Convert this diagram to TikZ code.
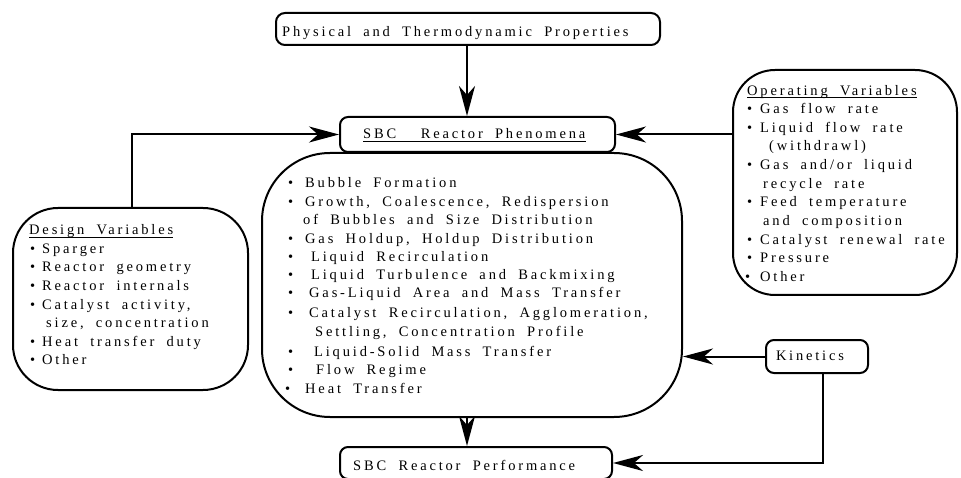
\documentclass[tikz,border=0pt]{standalone}
\usepackage{fontspec}
\setmainfont{Liberation Serif}
\newfontfamily\spfont[LetterSpace=19.5,WordSpace=1.9]{Liberation Serif}
\usetikzlibrary{arrows.meta}
\newcommand\bu[1]{\makebox[#1pt][l]{\textbullet}}
\newcommand\gp{\kern2.5pt\relax}
\tikzset{
  box/.style={draw, line width=2pt, inner sep=0pt, rounded corners=#1},
  txt/.style={anchor=base west, inner sep=0pt, font=\spfont\fontsize{14.5}{17}\selectfont},
  arr/.style={line width=2pt, -{Stealth[length=30pt,width=16pt,inset=9pt]}},
  uline/.style={line width=1pt}
}
\begin{document}
\begin{tikzpicture}[x=1pt,y=-1pt]
\useasboundingbox (0,0) rectangle (961,478);
\clip (0,0) rectangle (961,478);
% boxes
\node[box=9pt, minimum width=384pt, minimum height=32pt] (phys) at (468,29) {};
\node[box=8pt, minimum width=275pt, minimum height=35pt] (phen) at (477.5,134.5) {};
\node[box=68pt, minimum width=420pt, minimum height=264pt] (main) at (472,285) {};
\node[box=45pt, minimum width=235pt, minimum height=182pt] (design) at (130.5,299) {};
\node[box=42pt, minimum width=224pt, minimum height=225pt] (oper) at (845,182.5) {};
\node[box=8pt, minimum width=102pt, minimum height=33pt] (kin) at (817,356.5) {};
\node[box=8pt, minimum width=272pt, minimum height=32pt] (perf) at (476,463) {};
% connectors
\draw[arr] ([xshift=-1pt]phys.south) -- ([xshift=-1pt]phys.south |- phen.north);
\draw[arr] ([xshift=1.5pt]design.north) |- (phen.west);
\draw[arr] (oper.west |- phen.east) -- (phen.east);
\draw[arr] (kin.west) -- (kin.west -| main.east);
\draw[arr] ([xshift=-5pt]main.south) -- ([xshift=-5pt]main.south |- perf.north);
\draw[arr] ([xshift=6pt]kin.south) |- (perf.east);
% single texts
\node[txt] (tphys) at (282,37) {Physical and Thermodynamic Properties};
\node[txt] (tphen) at (363,139) {SBC~~Reactor Phenomena};
\draw[uline] ([yshift=-3pt]tphen.base west) -- ([yshift=-3pt]tphen.base east);
\node[txt] (tkin) at (776,360) {K\gp inetics};
\node[txt] (tperf) at (353,470) {SBC Reactor Performance};
% main box texts
\node[txt] (m1) at (288,188) {\bu{17}Bubble Formation};
\node[txt] (m2) at (288,207) {\bu{17}Growth, Coalescence, Redispersion};
\node[txt] (m3) at (303,225) {of Bubbles and Size D\gp istribution};
\node[txt] (m4) at (288,244) {\bu{17}Gas Holdup, Holdup Distribution};
\node[txt] (m5) at (288,262) {\bu{23}Liquid Recirculation};
\node[txt] (m6) at (288,280) {\bu{23}Liquid Turbulence and Backmixing};
\node[txt] (m7) at (288,298) {\bu{21}Gas-Liquid Area and Mass Transfer};
\node[txt] (m8) at (288,318) {\bu{21}Catalyst Recirculation, Agglomeration,};
\node[txt] (m9) at (315,337) {Settling, Concentration Profile};
\node[txt] (m10) at (288,356) {\bu{26}Liquid-Solid M\gp ass Transfer};
\node[txt] (m11) at (288,374) {\bu{28}Flow Regime};
\node[txt] (m12) at (285,393) {\bu{20}Heat Transfer};
% design texts
\node[txt] (d0) at (29,235) {Design Variables};
\draw[uline] ([yshift=-2.5pt]d0.base west) -- ([yshift=-2.5pt]d0.base east);
\node[txt] (d1) at (30,253.5) {\bu{12}Sparger};
\node[txt] (d2) at (30,272) {\bu{12}Reactor geometry};
\node[txt] (d3) at (30,290.5) {\bu{12}Reactor internals};
\node[txt] (d4) at (30,309) {\bu{12}Catalyst activity,};
\node[txt] (d5) at (46,327.5) {size, concentration};
\node[txt] (d6) at (30,346) {\bu{12}Heat transfer duty};
\node[txt] (d7) at (30,364.5) {\bu{12}Other};
% operating texts
\node[txt] (o0) at (747,95.5) {Operating Variables};
\draw[uline] ([yshift=-2.5pt]o0.base west) -- ([yshift=-2.5pt]o0.base east);
\node[txt] (o1) at (747,114) {\bu{13}Gas flow rate};
\node[txt] (o2) at (747,133) {\bu{13}Liquid flow rate};
\node[txt] (o3) at (769,151) {(withdrawl)};
\node[txt] (o4) at (747,170) {\bu{13}Gas and/or liquid};
\node[txt] (o5) at (763,188.5) {recycle rate};
\node[txt] (o6) at (747,207) {\bu{13}Feed temperature};
\node[txt] (o7) at (763,226) {and composition};
\node[txt] (o8) at (747,244.5) {\bu{13}Catalyst renew\gp al rate};
\node[txt] (o9) at (747,263) {\bu{13}Pressure};
\node[txt] (o10) at (745,282) {\bu{15}Other};
\end{tikzpicture}
\end{document}
